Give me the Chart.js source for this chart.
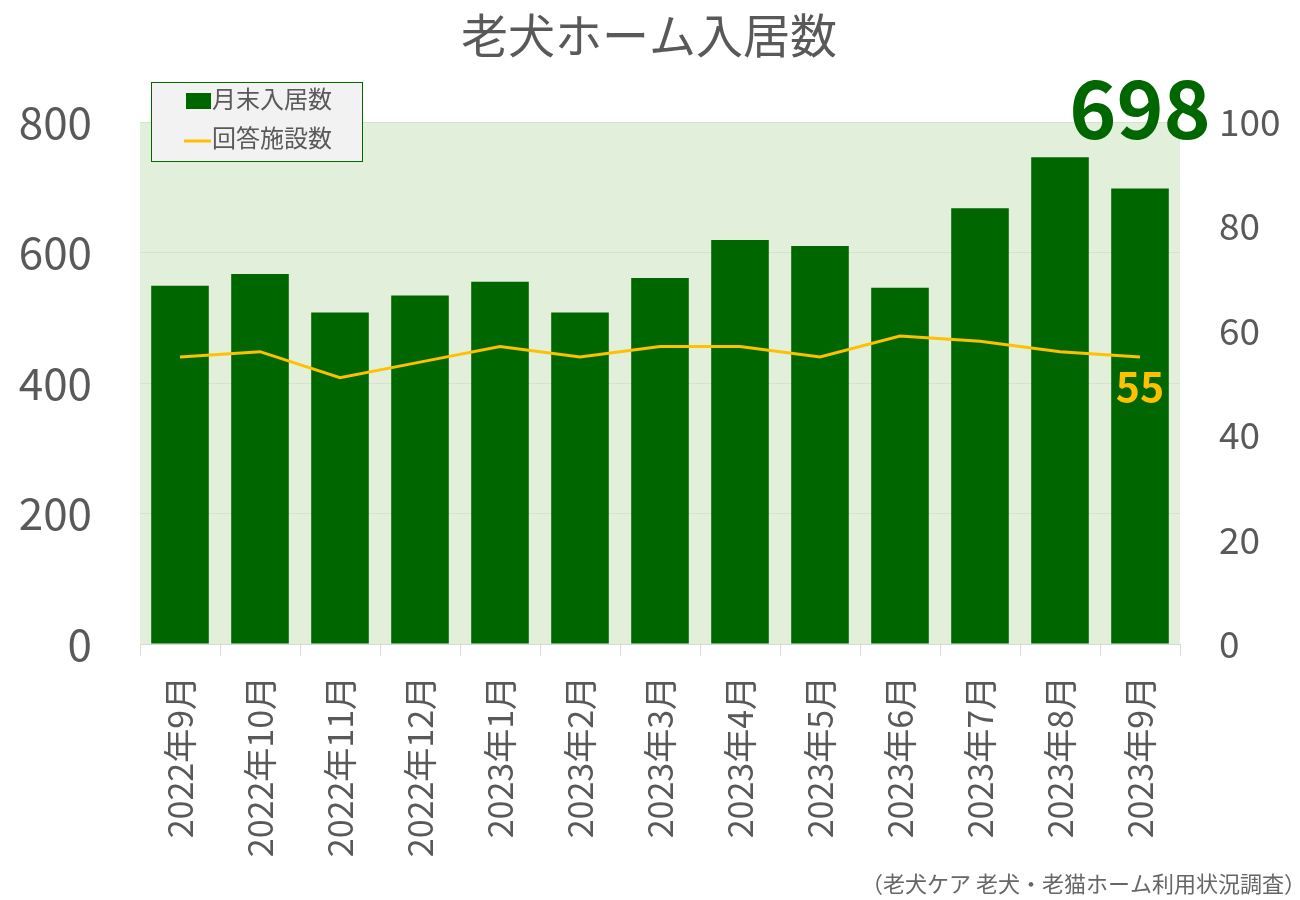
<!DOCTYPE html>
<html>
<head>
<meta charset="utf-8">
<script src="https://cdn.jsdelivr.net/npm/chart.js@4"></script>
<style>
  html, body { margin: 0; padding: 0; background: #fff; }
  canvas { display: block; }
</style>
</head>
<body>
<canvas id="chart" width="1300" height="900"></canvas>
<script>
const months = ['2022年9月', '2022年10月', '2022年11月', '2022年12月', '2023年1月', '2023年2月',
  '2023年3月', '2023年4月', '2023年5月', '2023年6月', '2023年7月', '2023年8月', '2023年9月'];
const residents = [549, 567, 508, 534, 555, 508, 561, 619, 610, 546, 668, 746, 698];
const facilities = [55, 56, 51, 54, 57, 55, 57, 57, 55, 59, 58, 56, 55];
const leftTicks = [0, 200, 400, 600, 800];
const rightTicks = [0, 20, 40, 60, 80, 100];

const FONT = '"Noto Sans CJK JP", "Noto Sans", sans-serif';
const GRAY = '#595959';
const GREEN = '#006600';
const YELLOW = '#ffc000';

const plotBg = {
  id: 'plotBg',
  beforeDraw: chart => {
    const { ctx, chartArea: a } = chart;
    ctx.save();
    ctx.fillStyle = '#e2efda';
    ctx.fillRect(a.left, a.top, a.right - a.left, a.bottom - a.top);
    ctx.restore();
  }
};

const extras = {
  id: 'extras',
  afterDraw: chart => {
    const ctx = chart.ctx;
    ctx.save();
    // title
    ctx.fillStyle = GRAY;
    ctx.font = '47px ' + FONT;
    ctx.textAlign = 'center';
    ctx.textBaseline = 'middle';
    ctx.fillText('老犬ホーム入居数', 649, 35);

    // latest value above last bar
    const last = residents.length - 1;
    const bar = chart.getDatasetMeta(0).data[last];
    ctx.fillStyle = GREEN;
    ctx.font = 'bold 80px ' + FONT;
    ctx.textBaseline = 'alphabetic';
    ctx.fillText(String(residents[last]), bar.x, 139);

    // latest facilities value under last point
    const pt = chart.getDatasetMeta(1).data[last];
    ctx.fillStyle = YELLOW;
    ctx.font = 'bold 41px ' + FONT;
    ctx.textBaseline = 'top';
    ctx.fillText(String(facilities[last]), pt.x, pt.y + 9);

    // legend
    ctx.fillStyle = '#f2f2f2';
    ctx.fillRect(151, 82, 211, 79);
    ctx.strokeStyle = GREEN;
    ctx.lineWidth = 1;
    ctx.strokeRect(151.5, 82.5, 211, 79);
    ctx.fillStyle = GREEN;
    ctx.fillRect(186, 93, 25, 16);
    ctx.strokeStyle = YELLOW;
    ctx.lineWidth = 3;
    ctx.beginPath();
    ctx.moveTo(184, 141);
    ctx.lineTo(211, 141);
    ctx.stroke();
    ctx.fillStyle = GRAY;
    ctx.font = '24px ' + FONT;
    ctx.textAlign = 'left';
    ctx.textBaseline = 'middle';
    ctx.fillText(chart.data.datasets[0].label, 212, 99);
    ctx.fillText(chart.data.datasets[1].label, 212, 138);

    // source
    ctx.fillStyle = '#666666';
    ctx.font = '22px ' + FONT;
    ctx.textAlign = 'right';
    ctx.textBaseline = 'alphabetic';
    ctx.fillText('（老犬ケア 老犬・老猫ホーム利用状況調査）', 1306, 892);
    ctx.restore();
  }
};

new Chart(document.getElementById('chart'), {
  type: 'bar',
  plugins: [plotBg, extras],
  data: {
    labels: months,
    datasets: [{
      label: '月末入居数',
      data: residents,
      backgroundColor: GREEN,
      categoryPercentage: 0.72,
      barPercentage: 1,
      yAxisID: 'y',
      order: 2
    }, {
      type: 'line',
      label: '回答施設数',
      data: facilities,
      borderColor: YELLOW,
      borderWidth: 3,
      pointRadius: 0,
      tension: 0,
      yAxisID: 'y1',
      order: 1
    }]
  },
  options: {
    responsive: false,
    animation: false,
    devicePixelRatio: 1,
    layout: { padding: { top: 122, left: 0, right: 0, bottom: 0 } },
    plugins: {
      legend: { display: false },
      tooltip: { enabled: false }
    },
    scales: {
      x: {
        grid: { offset: true, drawOnChartArea: false, tickLength: 12, color: '#d9d9d9' },
        border: { color: '#d9d9d9' },
        ticks: {
          color: GRAY,
          font: { family: FONT, size: 34 },
          minRotation: 90,
          maxRotation: 90,
          padding: 20,
          autoSkip: false
        },
        afterFit: s => { s.height = 256; }
      },
      y: {
        position: 'left',
        min: 0,
        max: 800,
        afterBuildTicks: s => { s.ticks = leftTicks.map(v => ({ value: v })); },
        grid: { color: 'rgba(0,0,0,0.05)', drawTicks: false },
        border: { display: false },
        ticks: { color: GRAY, font: { family: FONT, size: 44 }, padding: 48 },
        afterFit: s => { s.width = 140; }
      },
      y1: {
        position: 'right',
        min: 0,
        max: 100,
        afterBuildTicks: s => { s.ticks = rightTicks.map(v => ({ value: v })); },
        grid: { drawOnChartArea: false, drawTicks: false },
        border: { display: false },
        ticks: { color: GRAY, font: { family: FONT, size: 37 }, padding: 39 },
        afterFit: s => { s.width = 120; }
      }
    }
  }
});
</script>
</body>
</html>
